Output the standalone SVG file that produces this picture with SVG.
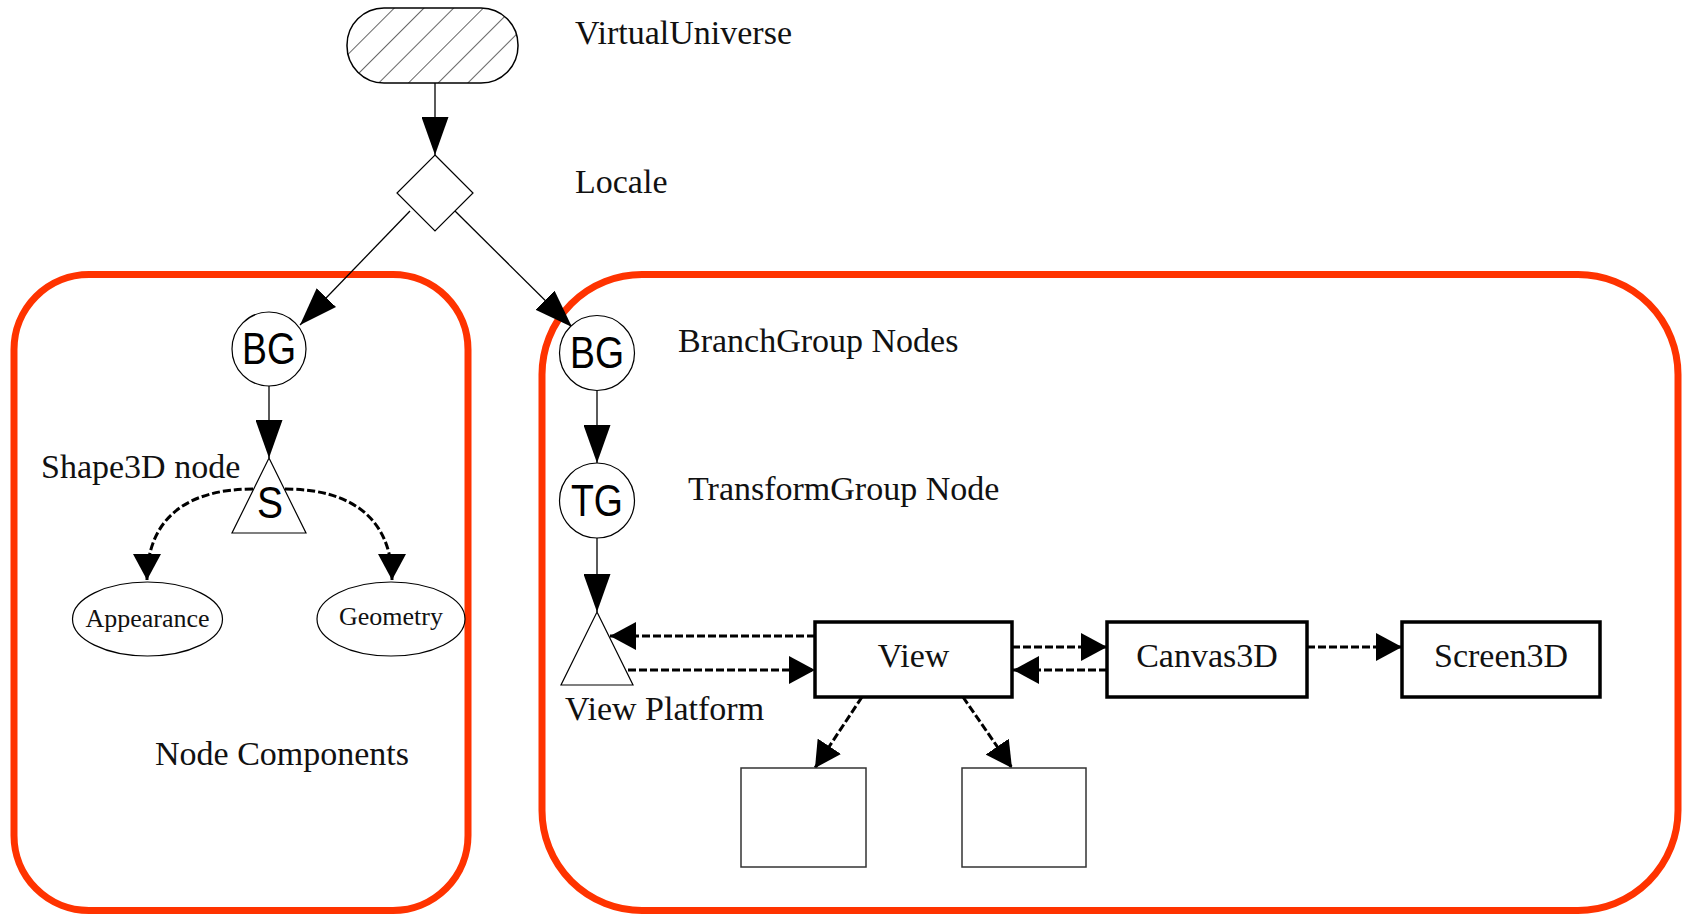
<svg xmlns="http://www.w3.org/2000/svg" width="1682" height="915" viewBox="0 0 1682 915">
<style>
.serif{font-family:"Liberation Serif","Times New Roman",serif;fill:#111}
.lbl{font-size:34px}
.small{font-size:26px}
.sans{font-family:"Liberation Sans",Arial,sans-serif;font-size:44px;fill:#000}
.thin{fill:#fff;stroke:#000;stroke-width:1.2}
.box{fill:#fff;stroke:#000;stroke-width:3.5}
.sbox{fill:#fff;stroke:#333;stroke-width:1.5}
.group{fill:none;stroke:#ff3300;stroke-width:7}
.solid{fill:none;stroke:#000;stroke-width:1.3;marker-end:url(#ah)}
.dash{fill:none;stroke:#000;stroke-width:3;stroke-dasharray:8 3;marker-end:url(#ahd)}
</style>
<defs>
<marker id="ah" markerUnits="userSpaceOnUse" viewBox="0 0 38 27" refX="38" refY="13.5" markerWidth="38" markerHeight="27" orient="auto">
<path d="M0,0 L38,13.5 L0,27 z" fill="#000"/>
</marker>
<marker id="ahd" markerUnits="userSpaceOnUse" viewBox="0 0 26 28" refX="26" refY="14" markerWidth="26" markerHeight="28" orient="auto">
<path d="M0,0 L26,14 L0,28 z" fill="#000"/>
</marker>
<pattern id="hatch" patternUnits="userSpaceOnUse" x="347" y="8" width="21" height="21" patternTransform="rotate(45)">
<line x1="0" y1="0" x2="0" y2="21" stroke="#000" stroke-width="1.2"/>
</pattern>
</defs>

<g id="groups">
<rect id="group-left" class="group" x="14" y="274.5" width="454" height="636" rx="75" ry="75"/>
<rect id="group-right" class="group" x="542" y="274.5" width="1136" height="636" rx="100" ry="100"/>
</g>

<g id="connectors">
<line class="solid" x1="435" y1="83" x2="435" y2="155"/>
<line class="solid" x1="410" y1="211" x2="300" y2="325"/>
<line class="solid" x1="455" y1="211" x2="572" y2="327"/>
<line class="solid" x1="269" y1="386" x2="269" y2="458"/>
<line class="solid" x1="597" y1="391" x2="597" y2="463"/>
<line class="solid" x1="597" y1="538" x2="597" y2="612"/>
<path class="dash" d="M253,489 C185,489 147,520 147,580"/>
<path class="dash" d="M285,489 C353,489 392,520 392,580"/>
<line class="dash" x1="815" y1="636" x2="610" y2="636"/>
<line class="dash" x1="628" y1="670" x2="815" y2="670"/>
<line class="dash" x1="1012" y1="647" x2="1107" y2="647"/>
<line class="dash" x1="1107" y1="670" x2="1013" y2="670"/>
<line class="dash" x1="1307" y1="647" x2="1402" y2="647"/>
<line class="dash" x1="862" y1="697" x2="815" y2="768"/>
<line class="dash" x1="963" y1="697" x2="1012" y2="768"/>
</g>

<g id="virtual-universe">
<rect x="347" y="8" width="171" height="75" rx="37" ry="37" fill="url(#hatch)" stroke="#000" stroke-width="1.5"/>
<text class="serif lbl" x="575" y="44">VirtualUniverse</text>
</g>

<g id="locale">
<polygon class="thin" points="435,155 473,193 435,231 397,193"/>
<text class="serif lbl" x="575" y="193">Locale</text>
</g>

<g id="bg-left">
<circle class="thin" cx="269" cy="349" r="37"/>
<text class="sans" x="269" y="364" text-anchor="middle" textLength="54" lengthAdjust="spacingAndGlyphs">BG</text>
</g>

<g id="shape3d">
<polygon class="thin" points="269,458 306,533 232,533"/>
<text class="sans" x="270" y="518" text-anchor="middle" font-size="42" textLength="26" lengthAdjust="spacingAndGlyphs">S</text>
<text class="serif lbl" x="41" y="478">Shape3D node</text>
</g>

<g id="appearance">
<ellipse class="thin" cx="147.5" cy="619" rx="75" ry="37"/>
<text class="serif small" x="147.5" y="627" text-anchor="middle">Appearance</text>
</g>

<g id="geometry">
<ellipse class="thin" cx="391" cy="619" rx="74" ry="37"/>
<text class="serif small" x="391" y="625" text-anchor="middle">Geometry</text>
</g>

<g id="node-components">
<text class="serif lbl" x="155" y="765">Node Components</text>
</g>

<g id="bg-right">
<circle class="thin" cx="597" cy="353" r="37.5"/>
<text class="sans" x="597" y="368" text-anchor="middle" textLength="54" lengthAdjust="spacingAndGlyphs">BG</text>
<text class="serif lbl" x="678" y="352">BranchGroup Nodes</text>
</g>

<g id="tg">
<circle class="thin" cx="597" cy="500.5" r="37.5"/>
<text class="sans" x="597" y="516" text-anchor="middle" textLength="52" lengthAdjust="spacingAndGlyphs">TG</text>
<text class="serif lbl" x="688" y="500">TransformGroup Node</text>
</g>

<g id="view-platform">
<polygon class="thin" points="597,612 633,685 561,685"/>
<text class="serif lbl" x="565" y="720">View Platform</text>
</g>

<g id="view">
<rect class="box" x="815" y="622" width="197" height="75"/>
<text class="serif lbl" x="913.5" y="667" text-anchor="middle">View</text>
</g>

<g id="canvas3d">
<rect class="box" x="1107" y="622" width="200" height="75"/>
<text class="serif lbl" x="1207" y="667" text-anchor="middle">Canvas3D</text>
</g>

<g id="screen3d">
<rect class="box" x="1402" y="622" width="198" height="75"/>
<text class="serif lbl" x="1501" y="667" text-anchor="middle">Screen3D</text>
</g>

<g id="box-a">
<rect class="sbox" x="741" y="768" width="125" height="99"/>
</g>
<g id="box-b">
<rect class="sbox" x="962" y="768" width="124" height="99"/>
</g>
</svg>
